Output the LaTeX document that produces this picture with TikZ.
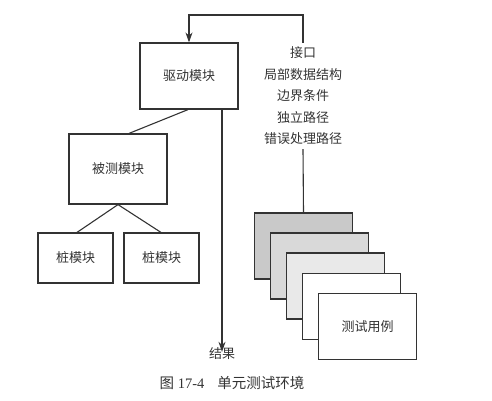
\documentclass[tikz,border=0pt]{standalone}
\usepackage{fontspec}
\setmainfont{Liberation Serif}
\newfontfamily\cjk{Noto Sans CJK SC}
\usetikzlibrary{arrows.meta}
\definecolor{ink}{HTML}{333333}
\definecolor{cardA}{HTML}{C9C9C9}
\definecolor{cardB}{HTML}{D9D9D9}
\definecolor{cardC}{HTML}{E9E9E9}
\tikzset{
  box/.style={draw=ink, line width=1.2pt, fill=white, inner sep=0pt, font=\cjk\fontsize{13}{15}\selectfont, text=ink},
  card/.style={box, minimum width=98pt, minimum height=66pt},
  conn/.style={draw=ink, line width=1.1pt},
  arr/.style={conn, -{Stealth[length=10pt, width=7pt]}},
  lbl/.style={inner sep=0pt, font=\cjk\fontsize{13}{15}\selectfont, text=ink}
}
\begin{document}
\begin{tikzpicture}[x=1pt, y=-1pt]
\useasboundingbox (0,0) rectangle (492,400);
% modules
\node[box, minimum width=98pt, minimum height=66pt] (driver) at (189,76) {驱动模块};
\node[box, minimum width=98pt, minimum height=70pt] (test) at (118,169) {被测模块};
\node[box, minimum width=75pt, minimum height=50pt] (stubA) at (75.5,258) {桩模块};
\node[box, minimum width=75pt, minimum height=50pt] (stubB) at (161.5,258) {桩模块};
% cards
\node[card, fill=cardA] (c1) at (303.5,246) {};
\node[card, fill=cardB] (c2) at (319.5,266) {};
\node[card, fill=cardC] (c3) at (335.5,286) {};
\node[card] (c4) at (351.5,306.5) {};
\node[card] (c5) at (367.5,326.5) {测试用例};
% info text
\node[lbl, align=center, font=\cjk\fontsize{13}{21.5}\selectfont, minimum height=106pt] (info) at (303,96) {接口\\局部数据结构\\边界条件\\独立路径\\错误处理路径};
\node[lbl] (result) at (222,354) {结果};
\node[inner sep=0pt, text=ink, font=\fontsize{14.5}{16}\selectfont] (cap) at (232,383) {{\cjk 图} 17-4\hspace{0.9em}{\cjk 单元测试环境}};
% connectors
\coordinate (top) at (303,15);
\draw[arr] (info.north) -- (top) -| (driver.north);
\draw[conn] (info.south) -- (c1.north);
\draw[conn] ([xshift=-1pt]driver.south) -- ([xshift=11pt]test.north);
\draw[arr] ([xshift=33pt]driver.south) -- ([yshift=-4pt]result.north);
\draw[conn] (test.south) -- ([xshift=1.5pt]stubA.north);
\draw[conn] (test.south) -- ([xshift=-0.5pt]stubB.north);
\end{tikzpicture}
\end{document}
